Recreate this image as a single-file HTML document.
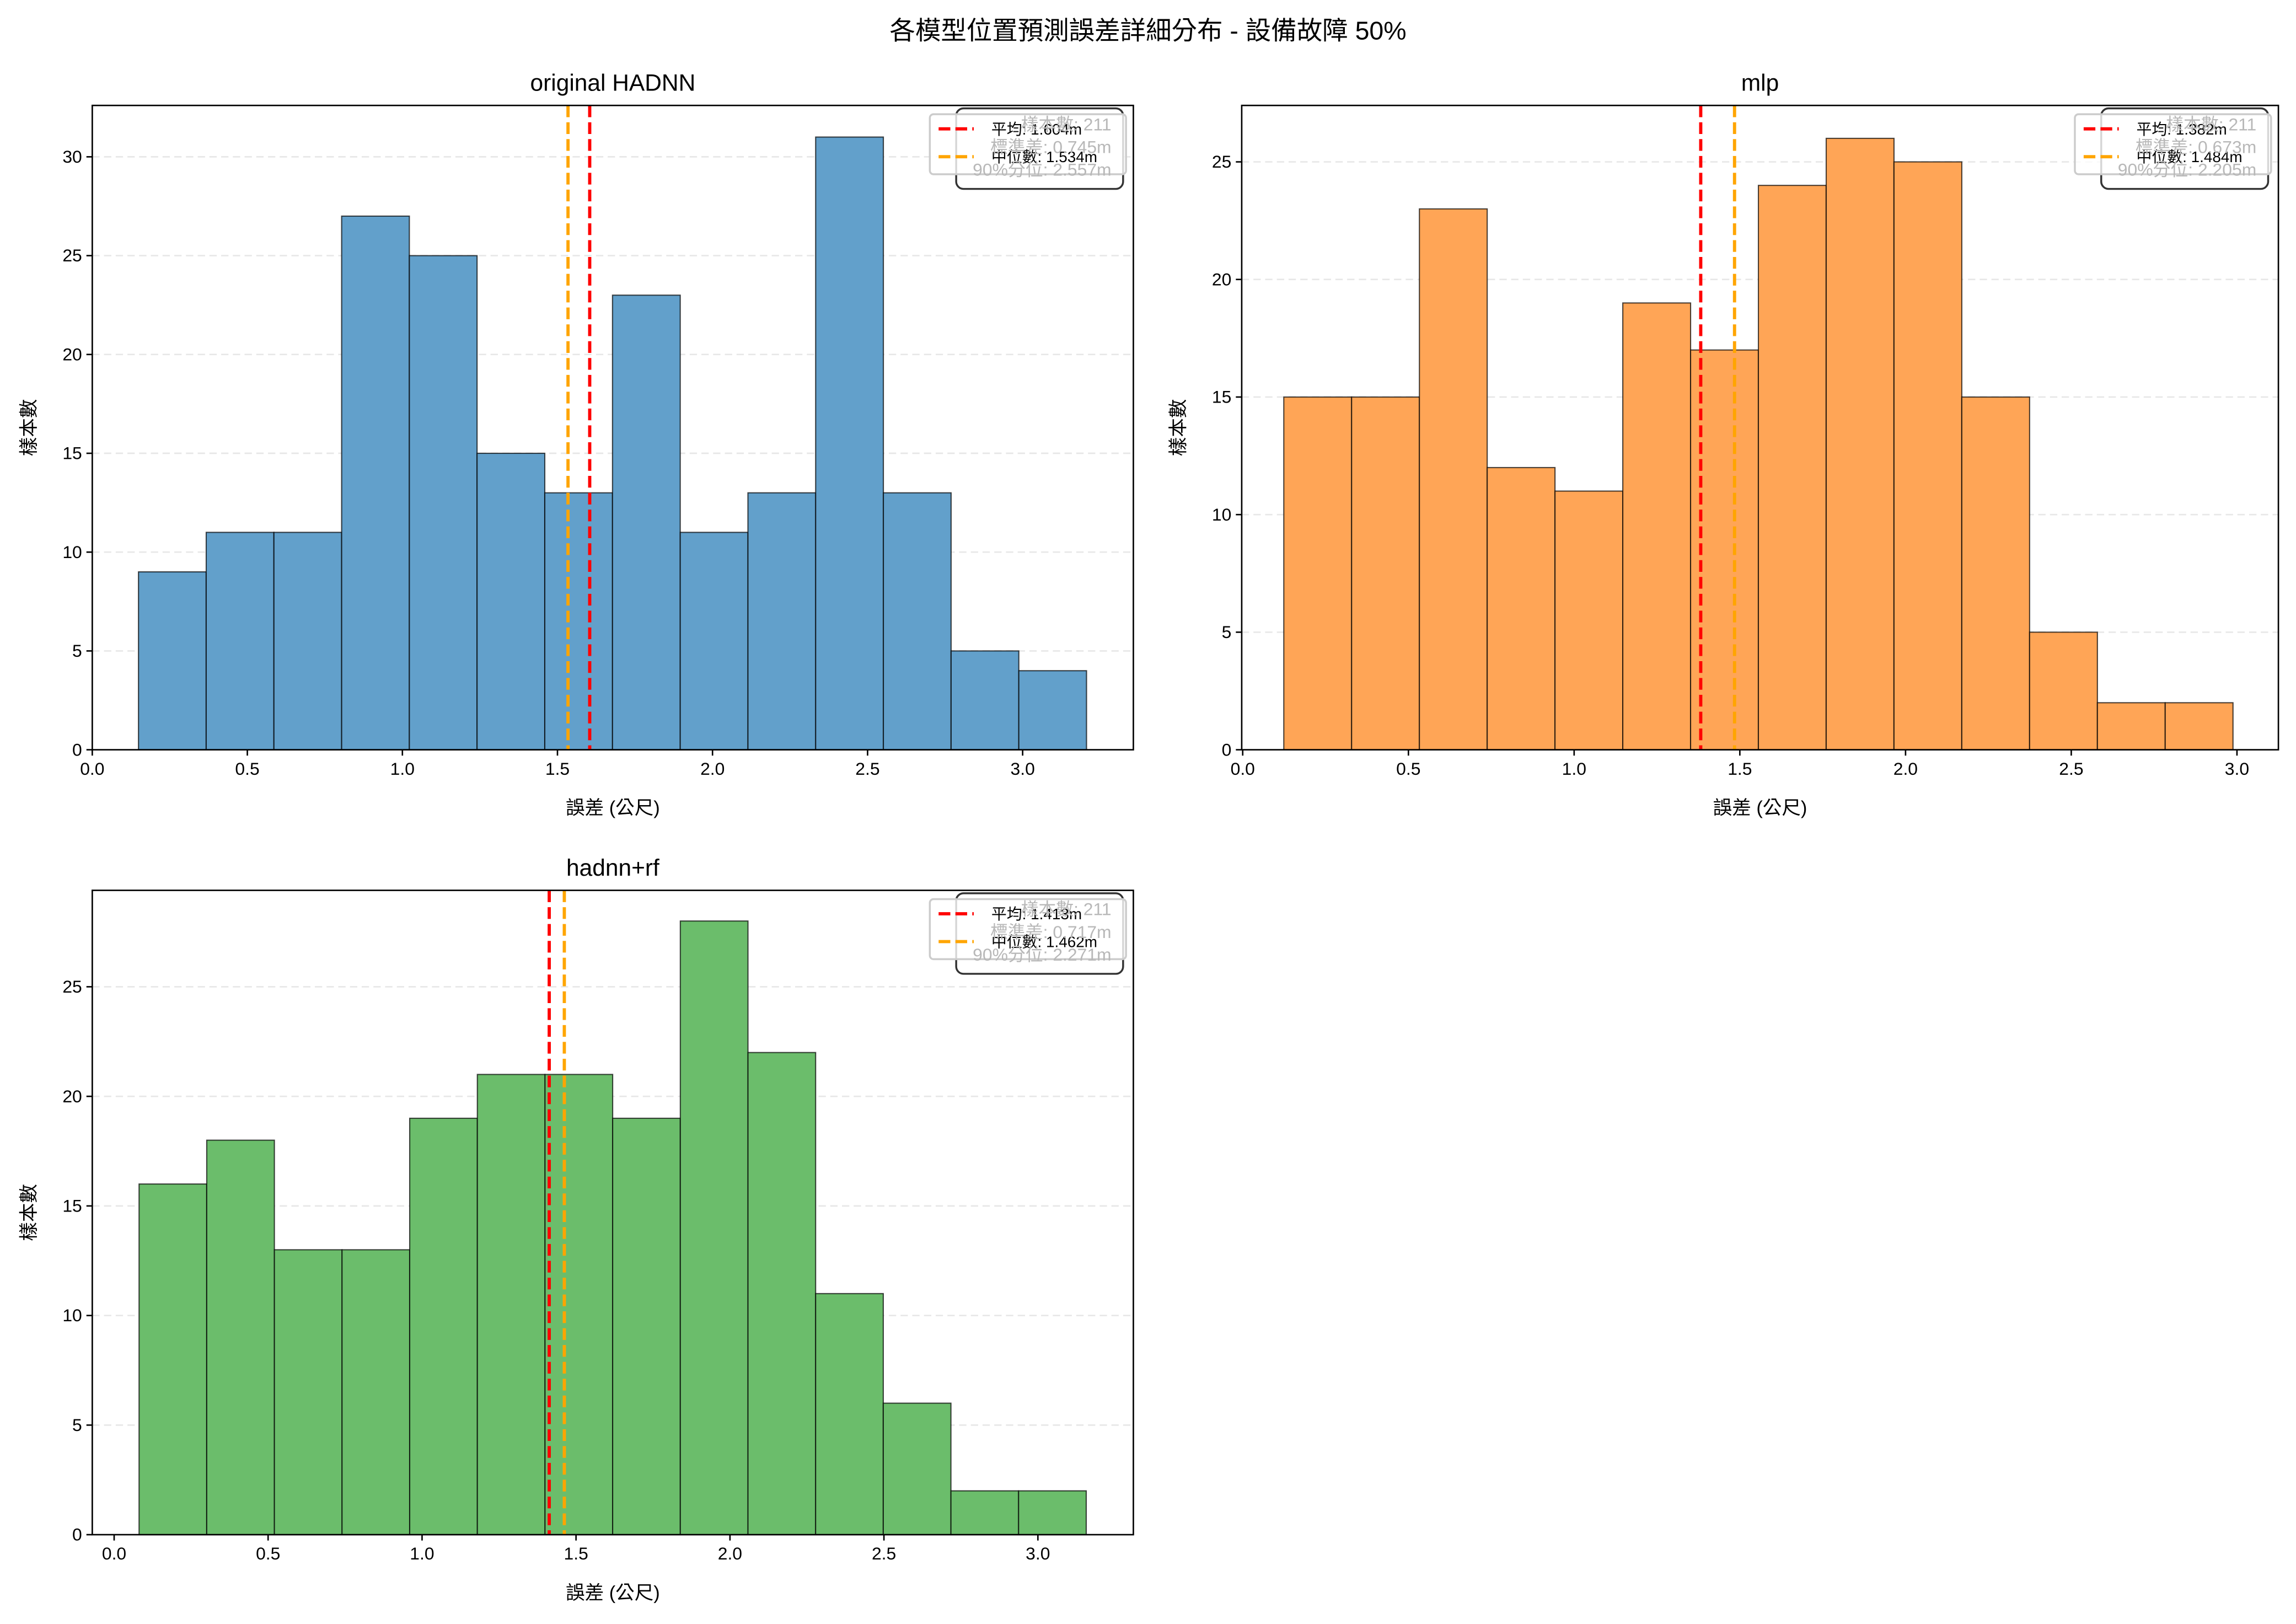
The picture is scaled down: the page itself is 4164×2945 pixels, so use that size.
<!DOCTYPE html>
<html><head><meta charset="utf-8"><style>
html,body{margin:0;padding:0;background:#fff;}
svg{display:block;font-family:"Liberation Sans","Noto Sans CJK TC",sans-serif;}
</style></head><body>
<svg id="chart" width="4164" height="2945" viewBox="0 0 1568 1109" xmlns="http://www.w3.org/2000/svg">
<rect width="1568" height="1109" fill="#fff"/>
<text x="784" y="27" text-anchor="middle" font-size="17.5" fill="#000">各模型位置預測誤差詳細分布 - 設備故障 50%</text>
</svg>
<script>
const titles = ["original HADNN","mlp","hadnn+rf"];
const counts1 = [9,11,11,27,25,15,13,23,11,13,31,13,5,4];
const counts2 = [15,15,23,12,11,19,17,24,26,25,15,5,2,2];
const counts3 = [16,18,13,13,19,21,21,19,28,22,11,6,2,2];
const binRanges = [[0.149,3.206],[0.124,2.988],[0.081,3.157]];
const means = [1.604,1.382,1.413];
const medians = [1.534,1.484,1.462];
const stds = [0.745,0.673,0.717];
const p90s = [2.557,2.205,2.271];
const nSamples = [211,211,211];
const xTicks = [0,0.5,1.0,1.5,2.0,2.5,3.0];
const yTicks1 = [0,5,10,15,20,25,30];
const yTicks2 = [0,5,10,15,20,25];
const yTicks3 = [0,5,10,15,20,25];
const xlims = [[0,3.357],[-0.003,3.125],[-0.071,3.31]];
const ylims = [32.6,27.4,29.4];

const allCounts=[counts1,counts2,counts3];
const allY=[yTicks1,yTicks2,yTicks3];
const boxes=[{l:63,r:774,t:72,b:512},{l:848,r:1556,t:72,b:512},{l:63,r:774,t:608,b:1048}];
const fills=["#62a0cb","#ffa556","#6bbd6b"];
const svg=document.getElementById('chart');
const NS="http://www.w3.org/2000/svg";
function mk(tag,attrs,parent){const e=document.createElementNS(NS,tag);for(const k in attrs)e.setAttribute(k,attrs[k]);(parent||svg).appendChild(e);return e;}

for(let i=0;i<3;i++){
  const B=boxes[i];
  const g=mk('g',{});
  
  
  const xs=v=>B.l+(v-xlims[i][0])/(xlims[i][1]-xlims[i][0])*(B.r-B.l);
  const ys=v=>B.b-v/ylims[i]*(B.b-B.t);
  allY[i].forEach(t=>{ if(t===0)return;
    const gl=mk('line',{x1:B.l,x2:B.r,y1:ys(t),y2:ys(t),stroke:'#b0b0b0','stroke-opacity':0.3,'stroke-dasharray':'5,3','stroke-width':1},g);
    
    
  });
  const c=allCounts[i];const n=c.length;const w=(binRanges[i][1]-binRanges[i][0])/n;
  c.forEach((v,k)=>{
    const x0=xs(binRanges[i][0]+k*w),x1=xs(binRanges[i][0]+(k+1)*w);
    const r=mk('rect',{x:x0,y:ys(v),width:x1-x0,height:ys(0)-ys(v),fill:fills[i],stroke:'#000','stroke-opacity':0.7,'stroke-width':0.8},g);
    
    
  });
  const ml=mk('line',{x1:xs(means[i]),x2:xs(means[i]),y1:B.t,y2:B.b,stroke:'#ff0000','stroke-width':2.2,'stroke-dasharray':'8,3.5'},g);
  
  
  const dl=mk('line',{x1:xs(medians[i]),x2:xs(medians[i]),y1:B.t,y2:B.b,stroke:'#ffa500','stroke-width':2.2,'stroke-dasharray':'8,3.5'},g);
  
  
  const fr=mk('rect',{x:B.l,y:B.t,width:B.r-B.l,height:B.b-B.t,fill:'none',stroke:'#000','stroke-width':1},g);
  
  
  xTicks.forEach(t=>{
    const x=xs(t);
    mk('line',{x1:x,x2:x,y1:B.b,y2:B.b+4,stroke:'#000','stroke-width':1},g);
    const tx=mk('text',{x:x,y:B.b+17,'text-anchor':'middle','font-size':12,fill:'#000'},g);
    tx.textContent=t.toFixed(1);
    
    
  });
  allY[i].forEach(t=>{
    const y=ys(t);
    mk('line',{x1:B.l-4,x2:B.l,y1:y,y2:y,stroke:'#000','stroke-width':1},g);
    const tx=mk('text',{x:B.l-7,y:y+4,'text-anchor':'end','font-size':12,fill:'#000'},g);
    tx.textContent=String(t);
    
    
  });
  const tt=mk('text',{x:(B.l+B.r)/2,y:B.t-10,'text-anchor':'middle','font-size':16,fill:'#000'},g);
  tt.textContent=titles[i];
  
  
  const xl=mk('text',{x:(B.l+B.r)/2,y:B.b+44,'text-anchor':'middle','font-size':13,fill:'#000'},g);
  xl.textContent='誤差 (公尺)';
  
  
  const cy=(B.t+B.b)/2;
  const yl=mk('text',{x:B.l-39,y:cy,'text-anchor':'middle','font-size':13,fill:'#000',transform:`rotate(-90 ${B.l-39} ${cy})`},g);
  yl.textContent='樣本數';
  
  
  const ox=B.r-774, oy=B.t-72;
  const sb=mk('rect',{x:653+ox,y:74+oy,width:114,height:55,rx:5,fill:'#fff',stroke:'#333','stroke-width':1.3},g);
  
  
  const lg=mk('rect',{x:635+ox,y:78+oy,width:134,height:41,rx:2.5,fill:'#fff','fill-opacity':0.8,stroke:'#ccc','stroke-width':1.3},g);
  
  
  [['#ff0000',`平均: ${means[i].toFixed(3)}m`,88],['#ffa500',`中位數: ${medians[i].toFixed(3)}m`,107]].forEach(([col,lab,y])=>{
    mk('line',{x1:641+ox,x2:665+ox,y1:y+oy,y2:y+oy,stroke:col,'stroke-width':2.2,'stroke-dasharray':'8,3.5'},g);
    const t=mk('text',{x:677+ox,y:y+oy+3.8,'font-size':10.5,fill:'#000'},g);
    t.textContent=lab;
    
    
  });
  const stl=[`樣本數: ${nSamples[i]}`,`標準差: ${stds[i].toFixed(3)}m`,`90%分位: ${p90s[i].toFixed(3)}m`];
  stl.forEach((s,k)=>{
    const t=mk('text',{x:759+ox,y:89+oy+k*15.5,'text-anchor':'end','font-size':12,fill:'#b8b8b8'},g);
    t.textContent=s;
    
    
  });
}
</script>
</body></html>
